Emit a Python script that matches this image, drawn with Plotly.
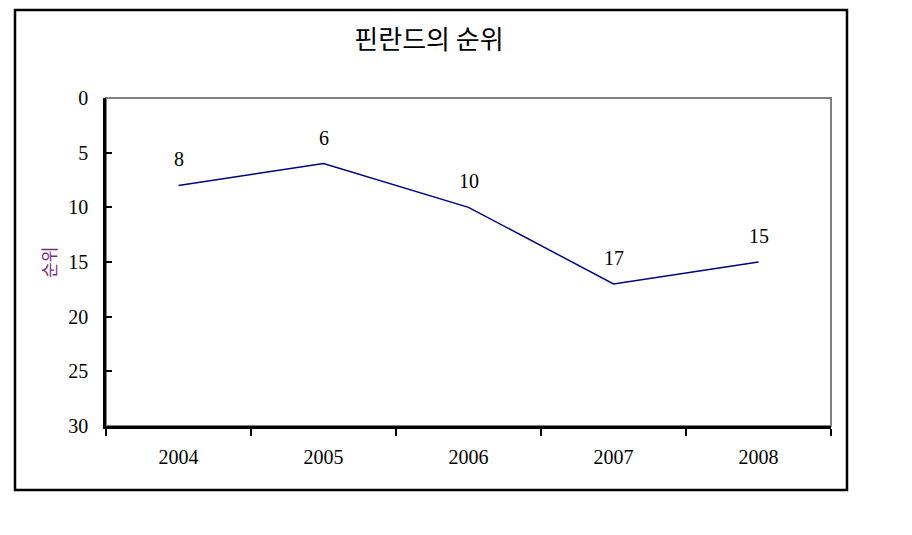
import plotly.graph_objects as go

years = ["2004", "2005", "2006", "2007", "2008"]
ranks = [8, 6, 10, 17, 15]
y_ticks = [0, 5, 10, 15, 20, 25, 30]
title_text = "핀란드의 순위"
y_title = "순위"

W, H = 912, 535
L, R, T, B = 106, 831, 98, 426
pw, ph = R - L, B - T

def px_x(x):
    return (x - L) / pw

def px_y(y):
    return (B - y) / ph

serif = "Liberation Serif"
kor = "Noto Sans CJK KR"

fig = go.Figure()
fig.add_trace(go.Scatter(
    x=years, y=ranks, mode="lines",
    line=dict(color="#000080", width=1.5),
    hoverinfo="skip", showlegend=False,
))

for i, v in enumerate(ranks):
    fig.add_annotation(
        x=i, y=v, xref="x", yref="y", text=str(v), showarrow=False,
        yanchor="bottom", yshift=13,
        font=dict(family=serif, size=20, color="black"),
    )

# outer border
fig.add_shape(type="rect", xref="paper", yref="paper",
              x0=px_x(15), x1=px_x(847), y0=px_y(490), y1=px_y(10),
              line=dict(color="black", width=2.5), layer="below")
# plot area frame (gray top/right)
fig.add_shape(type="rect", xref="paper", yref="paper",
              x0=0, x1=1, y0=0, y1=1,
              line=dict(color="#808080", width=2), layer="below")

fig.add_annotation(
    x=px_x(48), y=px_y(263), xref="paper", yref="paper",
    xanchor="center", yanchor="middle",
    text=y_title, textangle=-90, showarrow=False,
    font=dict(family=kor, size=17, color="#7a2a7a"),
)

fig.update_layout(
    width=W, height=H,
    margin=dict(l=L, r=W - R, t=T, b=H - B),
    paper_bgcolor="white", plot_bgcolor="white",
    title=dict(text=title_text, x=429 / W, xanchor="center",
               y=1 - 40 / H, yanchor="middle",
               font=dict(family=kor, size=26, color="black")),
    xaxis=dict(
        type="category", range=[-0.5, 4.5],
        showline=True, linecolor="black", linewidth=2.5,
        ticks="outside", ticklen=7, tickwidth=2, tickcolor="black",
        tickson="boundaries", showgrid=False, zeroline=False,
        tickfont=dict(family=serif, size=20, color="black"),
        ticklabelstandoff=11,
        fixedrange=True,
    ),
    yaxis=dict(
        range=[30, 0], tickvals=y_ticks,
        showline=True, linecolor="black", linewidth=2.5,
        ticks="inside", ticklen=6, tickwidth=2, tickcolor="black",
        showgrid=False, zeroline=False,
        tickfont=dict(family=serif, size=20, color="black"),
        ticklabelstandoff=11,
        fixedrange=True,
    ),
)

fig.write_html("out.html")
